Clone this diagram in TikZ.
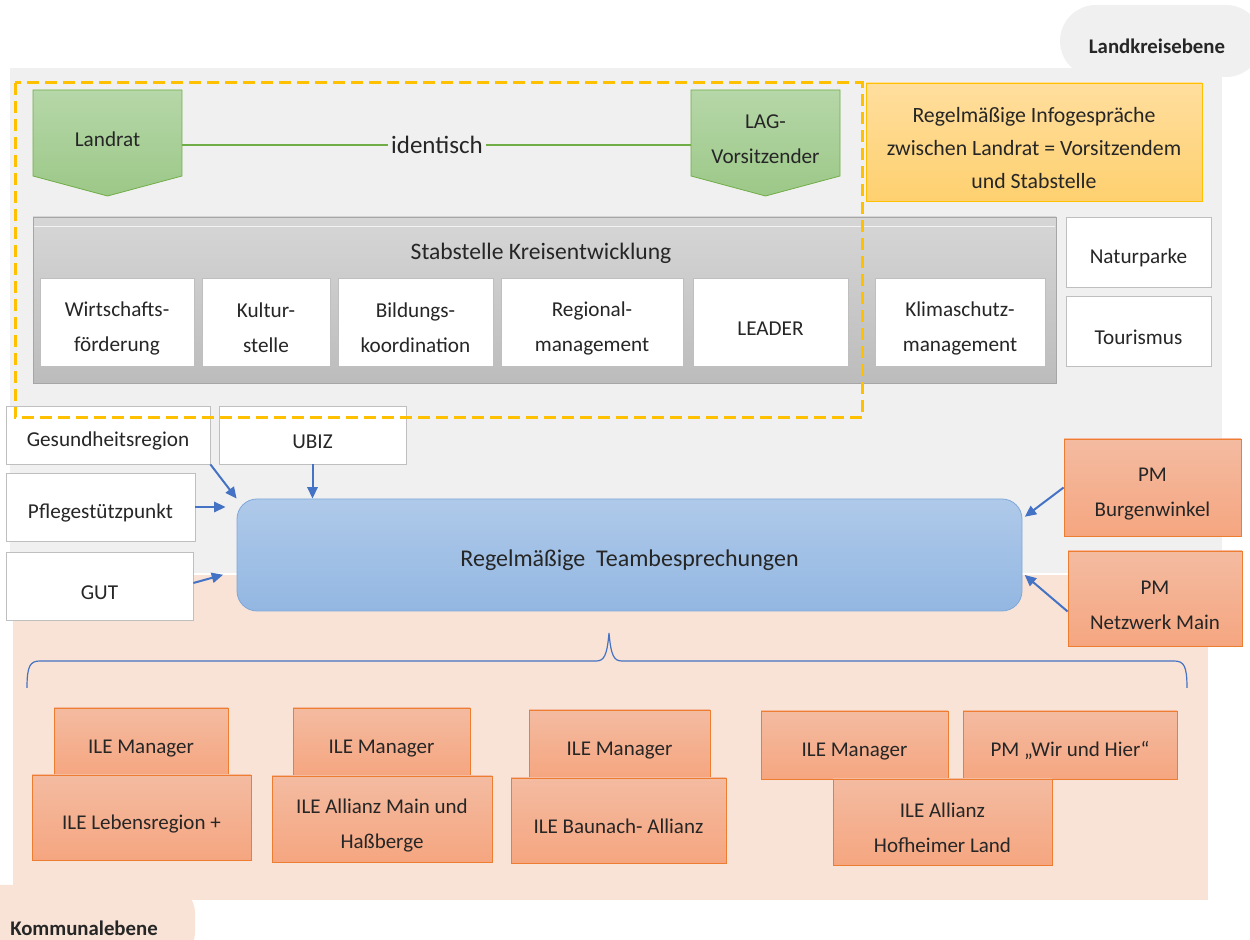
\documentclass[tikz,border=0pt]{standalone}
\usepackage{fontspec}
\setmainfont{Carlito}
\usepackage{tikz}
\usetikzlibrary{calc,shapes,positioning}
\usetikzlibrary{arrows}
\usetikzlibrary{arrows.meta}
\tikzset{>={Triangle[width=1.8mm,length=2mm]}}

\definecolor{txt}{HTML}{262626}
\definecolor{panelgray}{HTML}{F0F0F0}
\definecolor{panelpeach}{HTML}{F9E3D6}
\definecolor{boxgray}{HTML}{BFBFBF}
\definecolor{salmontop}{HTML}{F4BBA1}
\definecolor{salmonbot}{HTML}{F5A680}
\definecolor{salmonline}{HTML}{ED7D31}
\definecolor{bluetop}{HTML}{AFC9E9}
\definecolor{bluebot}{HTML}{93B7E2}
\definecolor{blueline}{HTML}{7EA8DA}
\definecolor{arrowblue}{HTML}{4472C4}
\definecolor{greentop}{HTML}{B6D7A8}
\definecolor{greenbot}{HTML}{9CC888}
\definecolor{greenline}{HTML}{70AD47}
\definecolor{yellowtop}{HTML}{FFDE9E}
\definecolor{yellowbot}{HTML}{FED06F}
\definecolor{yellowline}{HTML}{FFC000}
\definecolor{stabtop}{HTML}{D6D6D6}
\definecolor{stabbot}{HTML}{BCBCBC}
\definecolor{stabline}{HTML}{A6A6A6}

% box from corner (#3,#4) to corner (#5,#6), in picture units
\newcommand{\bx}[7][]{\node[#1, minimum width={(#5-#3)*0.5pt}, minimum height={(#6-#4)*0.5pt}] (#2) at ({(#3+#5)/2},{(#4+#6)/2}) {\rule{0pt}{13.5pt}#7};}

\begin{document}
\begin{tikzpicture}[x=0.5pt, y=-0.5pt]
  \tikzstyle{wnode} = [draw=boxgray, fill=white, inner sep=0pt, align=center, text=txt, font=\fontsize{10.6}{17.5}\selectfont]
  \tikzstyle{snode} = [draw=salmonline, top color=salmontop, bottom color=salmonbot, inner sep=0pt, align=center, text=txt, font=\fontsize{10.5}{17.5}\selectfont]
  \tikzstyle{gnode} = [inner sep=0pt, align=center, text=txt, font=\fontsize{10.6}{17.5}\selectfont]
  \tikzstyle{tab} = [inner sep=0pt, text=txt, font=\fontsize{10.4}{12}\selectfont\bfseries]
  \tikzstyle{conn} = [->, draw=arrowblue, line width=1pt]
  \useasboundingbox (0,0) rectangle (1250,940);

  % Ebenen
  \fill[panelgray, rounded corners=18pt] (1060,5) rectangle (1262,77);
  \fill[panelpeach, rounded corners=14pt] (-30,885) rectangle (195,960);
  \fill[panelgray] (10,68) rectangle (1222,573);
  \fill[panelpeach] (13,575) rectangle (1208,900);
  \node[tab] (lkebene) at (1157,46) {Landkreisebene};
  \node[tab] (kebene) at (84,928) {Kommunalebene};

  % Landrat / LAG
  \shade[top color=greentop, bottom color=greenbot, draw=greenline] (33,90) -- (182,90) -- (182,176) -- (107.5,196) -- (33,176) -- cycle;
  \shade[top color=greentop, bottom color=greenbot, draw=greenline] (691,90) -- (840,90) -- (840,176) -- (765.5,196) -- (691,176) -- cycle;
  \bx[gnode]{landrat}{33}{90}{182}{176}{Landrat}
  \bx[gnode]{lag}{691}{90}{840}{176}{LAG-\\Vorsitzender}
  \node[gnode, inner sep=1.5pt, font=\fontsize{12.5}{14}\selectfont] (ident) at (437,145) {identisch};
  \draw[greenline, line width=0.8pt] (ident.west) -- (ident.west -| landrat.east);
  \draw[greenline, line width=0.8pt] (ident.east) -- (ident.east -| lag.west);

  \bx[gnode, draw=yellowline, top color=yellowtop, bottom color=yellowbot, font=\fontsize{10.9}{16.7}\selectfont]{info}{866}{83}{1202}{201}{Regelmäßige Infogespräche\\zwischen Landrat = Vorsitzendem\\und Stabstelle}

  % Stabstelle
  \bx[draw=stabline, top color=stabtop, bottom color=stabbot, inner sep=0pt]{stab}{33}{217}{1056}{383}{}
  \draw[white!70!stabtop] (34,226) -- (1055,226);
  \node[gnode, font=\fontsize{11.8}{14}\selectfont] (stabtitle) at (541,253) {Stabstelle Kreisentwicklung};
  \bx[wnode]{wirt}{40}{278}{194}{366}{Wirtschafts-\\förderung}
  \bx[wnode]{kultur}{202}{278}{330}{366}{Kultur-\\stelle}
  \bx[wnode]{bildung}{338}{278}{493}{366}{Bildungs-\\koordination}
  \bx[wnode]{regio}{501}{278}{683}{366}{Regional-\\management}
  \bx[wnode]{leader}{693}{278}{848}{366}{LEADER}
  \bx[wnode]{klima}{875}{278}{1045}{366}{Klimaschutz-\\management}
  \bx[wnode]{natur}{1066}{217}{1211}{287}{Naturparke}
  \bx[wnode]{tour}{1066}{296}{1211}{366}{Tourismus}

  % Partner links
  \bx[wnode]{gesund}{6}{406}{210}{464}{Gesundheitsregion}
  \bx[wnode]{ubiz}{219}{406}{406}{464}{UBIZ}
  \bx[wnode]{pflege}{6}{473}{195}{541}{Pflegestützpunkt}
  \bx[wnode]{gut}{6}{552}{193}{620}{GUT}

  \draw[yellowline, line width=1.5pt, dash pattern=on 6pt off 3pt] (15,83) rectangle (862,418);

  % Teambesprechungen
  \bx[gnode, draw=blueline, top color=bluetop, bottom color=bluebot, rounded corners=10pt, font=\fontsize{12}{14}\selectfont]{team}{237}{499}{1022}{611}{Regelmäßige~ Teambesprechungen}

  \bx[snode]{burg}{1064}{439}{1241}{536}{PM\\Burgenwinkel}
  \bx[snode]{netz}{1068}{551}{1242}{646}{PM\\Netzwerk Main}

  \draw[conn] (gesund.south east) -- (team.north west);
  \draw[conn] (ubiz.south) -- (ubiz.south |- team.north);
  \draw[conn, shorten >=5.5pt] (pflege.east) -- (pflege.east -| team.west);
  \draw[conn, shorten >=7pt] ($(gut.east)+(0,-3)$) -- ($(team.west)+(0,16)$);
  \draw[conn, shorten >=1.5pt] (burg.west) -- ($(team.north east)+(0,20)$);
  \draw[conn, shorten >=1.5pt] ($(netz.west)+(0,13)$) -- ($(team.east)+(0,18)$);

  % Klammer
  \draw[arrowblue, line width=0.6pt] (27,688) .. controls (27,666) and (30,661) .. (40,661) -- (596,661) .. controls (604,661) and (607,656) .. (609,633) .. controls (611,656) and (614,661) .. (622,661) -- (1174,661) .. controls (1184,661) and (1187,666) .. (1187,688);

  % ILE
  \bx[snode]{man1}{54}{708}{228}{775}{ILE Manager}
  \bx[snode]{ile1}{32}{775}{251}{860}{ILE Lebensregion +}
  \bx[snode]{man2}{293}{708}{470}{775}{ILE Manager}
  \bx[snode]{ile2}{272}{776}{492}{862}{ILE Allianz Main und\\Haßberge}
  \bx[snode]{man3}{529}{710}{710}{777}{ILE Manager}
  \bx[snode]{ile3}{511}{778}{726}{863}{ILE Baunach- Allianz}
  \bx[snode]{man4}{761}{711}{948}{779}{ILE Manager}
  \bx[snode]{pmwir}{963}{711}{1177}{779}{PM „Wir und Hier“}
  \bx[snode]{ile4}{833}{779}{1052}{865}{ILE Allianz\\Hofheimer Land}
\end{tikzpicture}
\end{document}
